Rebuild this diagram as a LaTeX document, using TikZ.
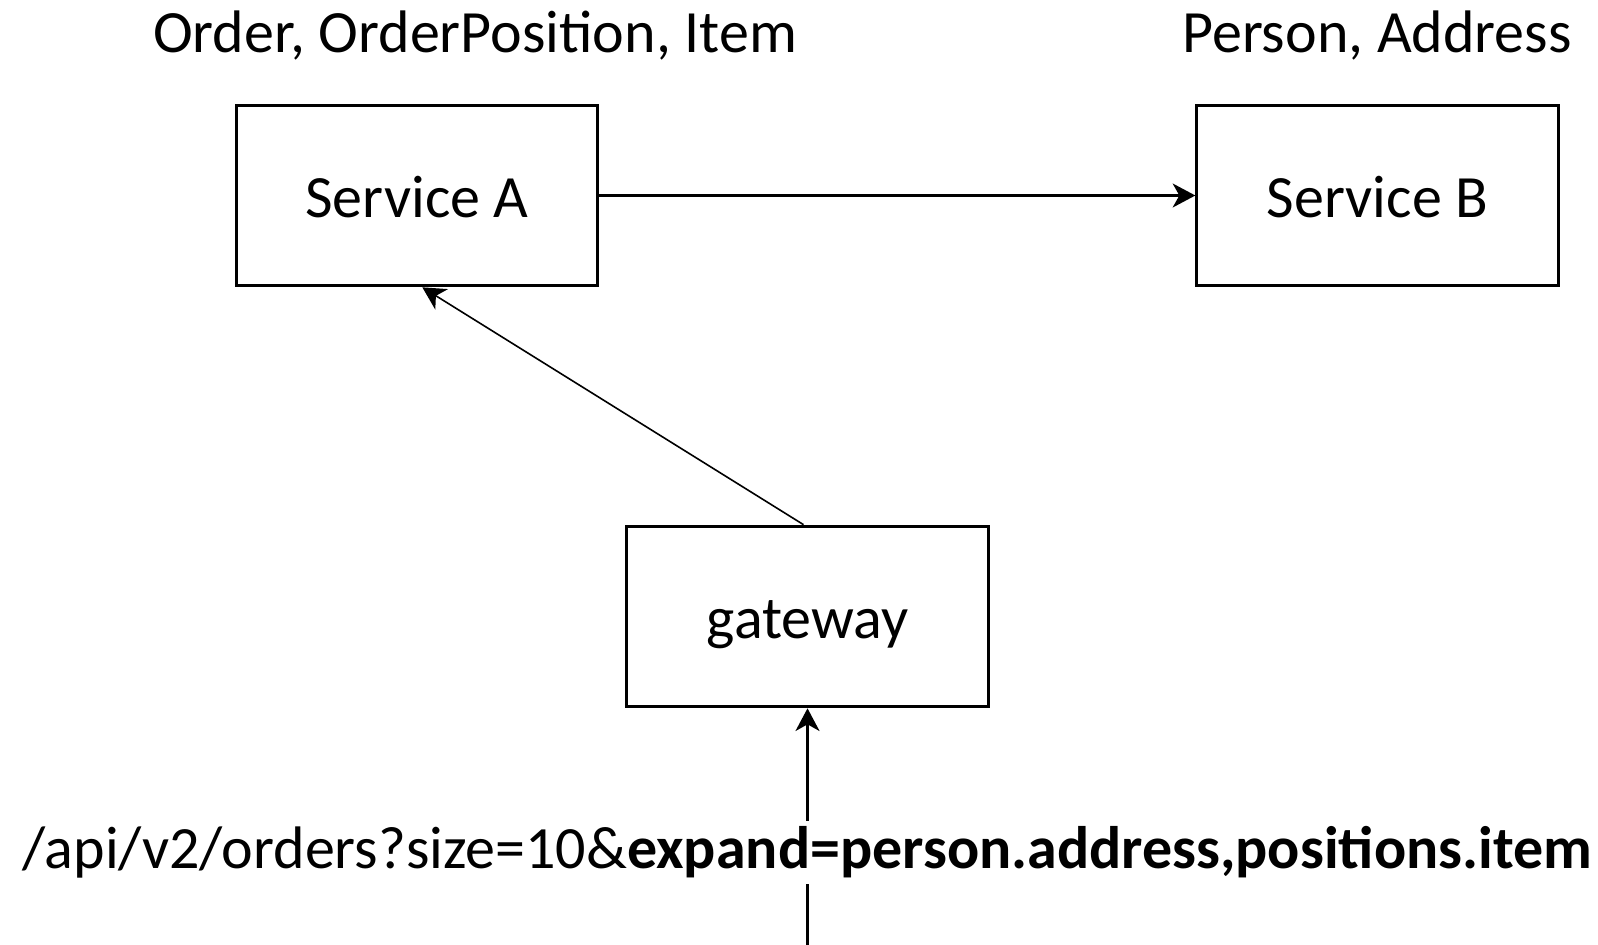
\documentclass[tikz,border=0pt]{standalone}
\usepackage{fontspec}
\setmainfont{Carlito}
\usetikzlibrary{arrows.meta}
\begin{document}
\begin{tikzpicture}[x=0.75pt,y=-0.75pt,
  every node/.style={font=\fontsize{45pt}{54pt}\selectfont},
  svc/.style={draw, line width=2.25pt, minimum width=271pt, minimum height=135.5pt,
    inner sep=0pt, text height=33pt, text depth=0pt},
  caption/.style={anchor=base, inner sep=0pt},
  flow/.style={line width=1.6pt, -{Stealth[length=17pt,width=18pt,inset=5pt]}}
]
\useasboundingbox (0,0) rectangle (1598,945);

% services and gateway
\node[svc] (A)  at (417,195.5) {Service A};
\node[svc] (B)  at (1377.5,195.5) {Service B};
\node[svc] (gw) at (807.5,616.5) {gateway};

% entity lists above the services
\node[caption] (entA) at (475,53) {Order, OrderPosition, Item};
\node[caption] (entB) at (1377,53) {Person, Address};

% incoming request
\coordinate (in) at (807.5,945);

% connectors
\draw[flow] (A.east) -- (B.west);
\draw[flow, line width=1.2pt] ([xshift=-3pt]gw.north) -- ([xshift=4pt]A.south);
\draw[flow] (in) -- node[pos=0.39, fill=white, inner sep=4pt] (req)
  {/api/v2/orders?size=10\&\textbf{expand=person.address,positions.item}} (gw.south);
\end{tikzpicture}
\end{document}
